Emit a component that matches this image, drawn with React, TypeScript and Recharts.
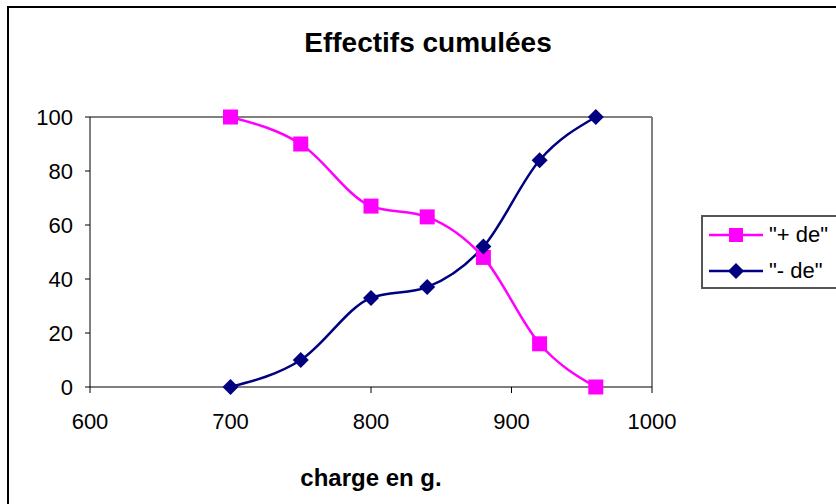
import React from "react";
import { LineChart, Line, XAxis, YAxis, ReferenceLine } from "recharts";

// charge (g) on x, cumulated counts on y
const charges = [700, 750, 800, 840, 880, 920, 960];
const plusDe = [100, 90, 67, 63, 48, 16, 0];
const moinsDe = [0, 10, 33, 37, 52, 84, 100];

const xTicks = [600, 700, 800, 900, 1000];
const yTicks = [0, 20, 40, 60, 80, 100];

const seriesNames = ['"+ de"', '"- de"'];
const PINK = "#FF00FF";
const NAVY = "#000080";

const data = charges.map((c, i) => ({
  charge: c,
  plus: plusDe[i],
  moins: moinsDe[i],
}));

const FONT = '"Liberation Sans", Arial, sans-serif';

const Square = (props: any) => {
  const { cx, cy, index } = props;
  return (
    <rect key={"sq" + index} x={cx - 7.5} y={cy - 7.5} width={15} height={15} fill={PINK} />
  );
};

const Diamond = (props: any) => {
  const { cx, cy, index } = props;
  const r = 8;
  return (
    <polygon
      key={"dm" + index}
      points={`${cx},${cy - r} ${cx + r},${cy} ${cx},${cy + r} ${cx - r},${cy}`}
      fill={NAVY}
    />
  );
};

export default function App() {
  return (
    <div
      style={{
        position: "absolute",
        left: 0,
        top: 0,
        width: 836,
        height: 504,
        overflow: "hidden",
        background: "#fff",
        fontFamily: FONT,
      }}
    >
      <div
        style={{
          position: "absolute",
          left: 7,
          top: 6,
          width: 900,
          height: 600,
          border: "2px solid #000",
        }}
      />
      <div
        style={{
          position: "absolute",
          left: 228,
          width: 400,
          top: 26,
          textAlign: "center",
          fontWeight: "bold",
          fontSize: 28,
          lineHeight: "34px",
        }}
      >
        Effectifs cumulées
      </div>
      <div
        style={{
          position: "absolute",
          left: 221,
          width: 300,
          top: 464,
          textAlign: "center",
          fontWeight: "bold",
          fontSize: 24,
          lineHeight: "28px",
        }}
      >
        charge en g.
      </div>

      <LineChart
        width={836}
        height={504}
        data={data}
        margin={{ top: 117, right: 184, bottom: 87, left: 40 }}
        style={{ position: "absolute", left: 0, top: 0 }}
      >
        <ReferenceLine y={100} stroke="#808080" strokeWidth={2} />
        <ReferenceLine x={1000} stroke="#808080" strokeWidth={2} />
        <XAxis
          dataKey="charge"
          type="number"
          domain={[600, 1000]}
          ticks={xTicks}
          height={30}
          tickSize={6}
          tickMargin={20}
          stroke="#000"
          tick={{ fill: "#000", fontSize: 22, fontFamily: FONT }}
        />
        <YAxis
          type="number"
          domain={[0, 100]}
          ticks={yTicks}
          width={50}
          tickSize={5}
          tickMargin={12}
          stroke="#000"
          tick={{ fill: "#000", fontSize: 22, fontFamily: FONT }}
        />
        <Line
          name={seriesNames[0]}
          dataKey="plus"
          type="monotone"
          stroke={PINK}
          strokeWidth={2.5}
          dot={Square}
          activeDot={false}
          isAnimationActive={false}
        />
        <Line
          name={seriesNames[1]}
          dataKey="moins"
          type="monotone"
          stroke={NAVY}
          strokeWidth={2.5}
          dot={Diamond}
          activeDot={false}
          isAnimationActive={false}
        />
      </LineChart>

      <div
        style={{
          position: "absolute",
          left: 701,
          top: 215,
          width: 160,
          height: 70,
          border: "2px solid #555",
          fontSize: 22,
        }}
      >
        {seriesNames.map((name, i) => (
          <div
            key={name}
            style={{
              position: "absolute",
              left: 6,
              top: i === 0 ? 5 : 41,
              height: 26,
              display: "flex",
              alignItems: "center",
            }}
          >
            <svg width={56} height={20}>
              <line x1={0} y1={10} x2={54} y2={10} stroke={i === 0 ? PINK : NAVY} strokeWidth={2.5} />
              {i === 0 ? (
                <rect x={20} y={3} width={14} height={14} fill={PINK} />
              ) : (
                <polygon points="27,2 35,10 27,18 19,10" fill={NAVY} />
              )}
            </svg>
            <span style={{ marginLeft: 4, lineHeight: "26px" }}>{name}</span>
          </div>
        ))}
      </div>
    </div>
  );
}
